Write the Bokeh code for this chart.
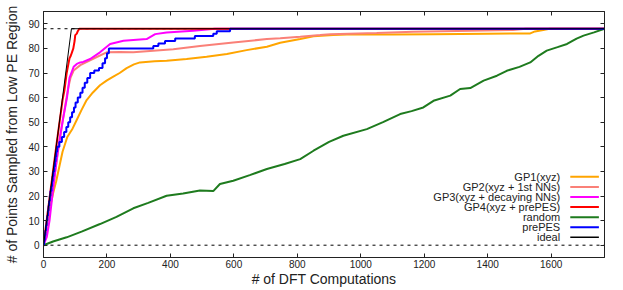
from bokeh.plotting import figure
from bokeh.models import Range1d, LinearAxis, Span, Label, FixedTicker
from bokeh.embed import file_html
from bokeh.resources import INLINE

# ---------------- data ----------------
x_ticks = [0, 200, 400, 600, 800, 1000, 1200, 1400, 1600]
y_ticks = [0, 10, 20, 30, 40, 50, 60, 70, 80, 90]
target = 88
x_max = 1768

gp1_x = [0, 10, 20, 30, 40, 50, 60, 75, 90, 105, 120, 136, 155, 178, 200, 220, 240, 262, 285, 304,
         350, 388, 451, 514, 578, 640, 704, 746, 809, 851, 913, 956, 1100, 1228, 1400, 1534, 1549,
         1575, 1595, 1768]
gp1_y = [0, 8, 15, 21, 26, 32, 38, 44, 47, 51, 55, 59, 62, 65, 67, 68.5, 70, 72, 73.5, 74.3,
         74.8, 75, 75.7, 76.6, 77.7, 79.3, 80.7, 82.3, 83.8, 84.9, 85.4, 85.6, 85.7, 85.8, 86, 86.1, 86.9,
         87.5, 88, 88]

gp2_x = [0, 10, 20, 30, 40, 50, 60, 70, 78, 85, 95, 116, 158, 199, 240, 283, 346, 409, 493, 598,
         704, 746, 809, 872, 904, 1050, 1165, 1350, 1480, 1520, 1768]
gp2_y = [0, 7, 15, 24, 33, 42, 50, 58, 64, 68, 71, 73.2, 75.9, 78.4, 78.5, 78.4, 79, 79.7, 81, 82.4,
         83.8, 84.1, 84.7, 85.4, 85.8, 86.3, 86.8, 87.2, 87.5, 88, 88]

gp3_x = [0, 10.5, 19, 26, 37, 47, 61, 74, 78, 82, 95, 105, 116, 125, 147, 178, 210, 252, 325, 352,
         388, 472, 540, 1768]
gp3_y = [0, 3.4, 10, 18, 30, 40, 51, 60, 64, 68, 72.5, 73.7, 74.3, 74.5, 75.7, 78.4, 81.8, 83.1,
         83.8, 85.8, 86.5, 87.2, 88, 88]

gp4_x = [0, 20, 40, 60, 66, 70, 73, 79, 82, 86, 90, 94, 98, 100, 105, 108, 113, 1768]
gp4_y = [0, 20, 40, 59, 63, 67, 70, 74, 76, 77, 78.5, 80, 83, 85.4, 86, 87, 88, 88]

rnd_x = [0, 30, 73, 120, 178, 230, 283, 330, 388, 440, 493, 535, 556, 598, 650, 704, 760, 809, 851,
         900, 945, 1019, 1070, 1124, 1160, 1197, 1229, 1282, 1313, 1345, 1387, 1429, 1460, 1500, 1534,
         1560, 1586, 1620, 1650, 1680, 1702, 1735, 1768]
rnd_y = [0, 1.5, 3.2, 5.5, 8.6, 11.5, 15.0, 17.2, 20.1, 21.0, 22.2, 22.0, 24.9, 26.2, 28.5, 31, 33,
         35, 38.4, 42, 44.5, 47.2, 50, 53.3, 54.5, 56, 58.7, 60.8, 63.5, 63.9, 66.9, 68.9, 70.9, 72.5,
         74.3, 77, 79.1, 80.5, 81.8, 84, 85.2, 86.5, 88]

pre_x = [0, 2, 4, 6, 8, 10, 12, 14, 16, 18, 20, 22, 25, 27, 29, 31, 34, 36, 38, 40, 43, 50, 58, 65,
         72, 78, 84, 90, 96, 101, 108, 116, 123, 130, 138, 147, 160, 175, 186, 194, 200, 206, 346,
         362, 383, 415, 477, 535, 546, 588, 1768]
pre_y = [0, 2, 4, 6, 8, 10, 12, 14, 16, 18, 20, 22, 24, 26, 28, 30, 32, 34, 36, 38, 40, 42, 44, 46,
         48, 50, 52, 54, 56, 58, 60, 62, 64, 66, 68, 70, 71, 72, 74, 76, 78, 80, 81,
         82, 83, 84, 85, 86, 87, 88, 88]

ideal_x = [0, 88, 1768]
ideal_y = [0, 88, 88]

names = ["GP1(xyz)", "GP2(xyz + 1st NNs)", "GP3(xyz + decaying NNs)", "GP4(xyz + prePES)",
         "random", "prePES", "ideal"]
colors = ["#FFA500", "#FA8078", "#FF00FF", "#FF0000", "#1E7B1E", "#0000FF", "#000000"]
widths = [2, 2, 2, 2, 2, 2, 1]

FONT = "Liberation Sans"

p = figure(width=623, height=290, x_range=Range1d(0, x_max), y_range=Range1d(-5, 95),
           output_backend="svg", toolbar_location=None,
           min_border_left=43, min_border_right=19, min_border_top=11, min_border_bottom=33)
p.grid.visible = False
p.outline_line_color = "#222222"
p.outline_line_width = 1
p.background_fill_color = "white"
p.border_fill_color = "white"

for s in (0, target):
    p.add_layout(Span(location=s, dimension="width", line_color="black", line_width=1,
                      line_dash="3 4", level="underlay"))

series = [(gp1_x, gp1_y), (gp2_x, gp2_y), (gp3_x, gp3_y), (gp4_x, gp4_y),
          (rnd_x, rnd_y), (pre_x, pre_y), (ideal_x, ideal_y)]
for i, (xs, ys) in enumerate(series):
    if names[i] == "prePES":
        p.step(xs, ys, mode="after", line_color=colors[i], line_width=widths[i])
    else:
        p.line(xs, ys, line_color=colors[i], line_width=widths[i])

def style_axis(ax, label_standoff, axis_standoff):
    ax.major_tick_in = 4
    ax.major_tick_out = 0
    ax.minor_tick_line_color = None
    ax.axis_line_color = "#222222"
    ax.major_tick_line_color = "#222222"
    ax.major_label_text_font = FONT
    ax.major_label_text_font_size = "10px"
    ax.major_label_text_color = "#222222"
    ax.major_label_standoff = label_standoff
    ax.axis_label_text_font = FONT
    ax.axis_label_text_font_size = "14px"
    ax.axis_label_text_font_style = "normal"
    ax.axis_label_text_color = "#222222"
    ax.axis_label_standoff = axis_standoff

p.xaxis.ticker = FixedTicker(ticks=x_ticks)
p.yaxis.ticker = FixedTicker(ticks=y_ticks)
p.xaxis.axis_label = "# of DFT Computations"
p.yaxis.axis_label = "# of Points Sampled from Low PE Region"
style_axis(p.xaxis[0], 2, 0)
style_axis(p.yaxis[0], 4, 5)

top = LinearAxis(ticker=FixedTicker(ticks=x_ticks),
                 major_label_overrides={t: "" for t in x_ticks})
right = LinearAxis(ticker=FixedTicker(ticks=y_ticks),
                   major_label_overrides={t: "" for t in y_ticks})
style_axis(top, 0, 0)
style_axis(right, 0, 0)
p.add_layout(top, "above")
p.add_layout(right, "right")

# legend: right-aligned text with the line sample on its right
leg_text_x = x_max * 0.921
leg_seg_x0 = x_max * 0.939
leg_seg_x1 = x_max * 0.990
leg_y0 = 27.8
leg_dy = 4.1
for i, nm in enumerate(names):
    yy = leg_y0 - i * leg_dy
    p.add_layout(Label(x=leg_text_x, y=yy, text=nm, text_align="right", text_baseline="middle",
                       text_font=FONT, text_font_size="11px", text_color="#222222"))
    p.segment(x0=[leg_seg_x0], y0=[yy], x1=[leg_seg_x1], y1=[yy],
              line_color=colors[i], line_width=widths[i] if i != 6 else 1.5)

open("out.html", "w").write(file_html(p, INLINE))
